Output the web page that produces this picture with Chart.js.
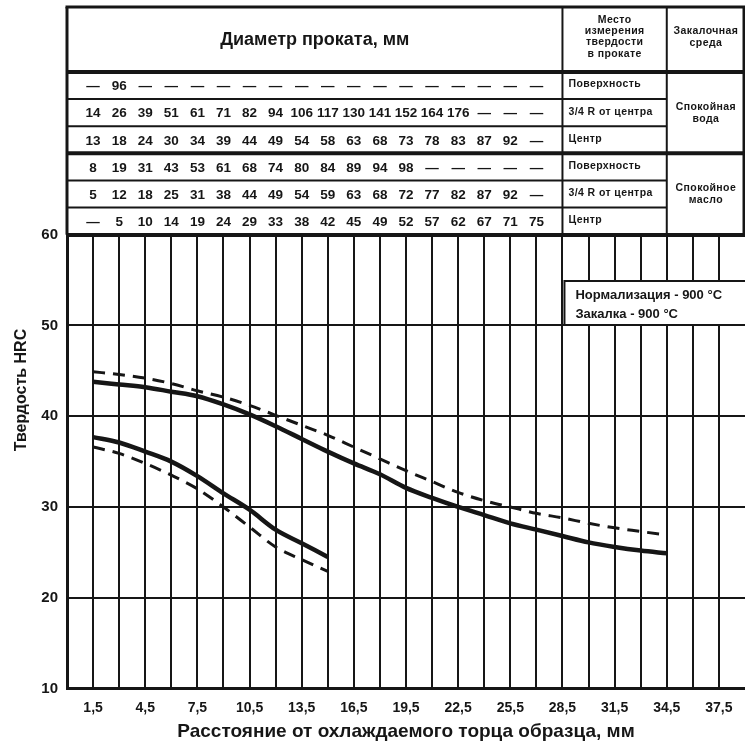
<!DOCTYPE html>
<html>
<head>
<meta charset="utf-8">
<script src="https://cdn.jsdelivr.net/npm/chart.js@4/dist/chart.umd.min.js"></script>
<style>
  html, body { margin: 0; padding: 0; background: #fff; }
  #wrap { width: 745px; height: 744px; }
</style>
</head>
<body>
<div id="wrap"><canvas id="hardnessChart" width="745" height="744"></canvas></div>
<script>
// Distance from quenched end, mm (curve points)
const upperX = [1.5, 3, 4.5, 6, 7.5, 9, 10.5, 12, 13.5, 15, 16.5, 18, 19.5, 21, 22.5, 24, 25.5, 27, 28.5, 30, 31.5, 33, 34.5];
const upperSolid = [43.8, 43.5, 43.2, 42.7, 42.2, 41.3, 40.2, 38.9, 37.5, 36.1, 34.8, 33.6, 32.1, 31.0, 30.0, 29.1, 28.2, 27.5, 26.8, 26.1, 25.6, 25.2, 24.9];
const upperDashed = [44.9, 44.6, 44.2, 43.6, 42.8, 42.1, 41.2, 40.1, 39.0, 37.9, 36.6, 35.3, 34.0, 32.8, 31.6, 30.7, 30.0, 29.3, 28.8, 28.2, 27.7, 27.3, 26.9];

const lowerX = [1.5, 3, 4.5, 6, 7.5, 9, 10.5, 12, 13.5, 15];
const lowerSolid = [37.7, 37.1, 36.1, 35.0, 33.4, 31.5, 29.7, 27.5, 26.0, 24.5];
const lowerDashed = [36.6, 35.9, 34.8, 33.5, 32.0, 30.0, 27.8, 25.6, 24.2, 22.9];

// Table above the chart: bar diameter, mm (one value per grid column 1,5 ... 27)
const tableColumns = [1.5, 3, 4.5, 6, 7.5, 9, 10.5, 12, 13.5, 15, 16.5, 18, 19.5, 21, 22.5, 24, 25.5, 27];
const waterSurface = ['—', '96', '—', '—', '—', '—', '—', '—', '—', '—', '—', '—', '—', '—', '—', '—', '—', '—'];
const waterQuarter = ['14', '26', '39', '51', '61', '71', '82', '94', '106', '117', '130', '141', '152', '164', '176', '—', '—', '—'];
const waterCenter = ['13', '18', '24', '30', '34', '39', '44', '49', '54', '58', '63', '68', '73', '78', '83', '87', '92', '—'];
const oilSurface = ['8', '19', '31', '43', '53', '61', '68', '74', '80', '84', '89', '94', '98', '—', '—', '—', '—', '—'];
const oilQuarter = ['5', '12', '18', '25', '31', '38', '44', '49', '54', '59', '63', '68', '72', '77', '82', '87', '92', '—'];
const oilCenter = ['—', '5', '10', '14', '19', '24', '29', '33', '38', '42', '45', '49', '52', '57', '62', '67', '71', '75'];
const tableRows = [waterSurface, waterQuarter, waterCenter, oilSurface, oilQuarter, oilCenter];
const placeLabels = ['Поверхность', '3/4 R от центра', 'Центр', 'Поверхность', '3/4 R от центра', 'Центр'];
const mediumLabels = [['Спокойная', 'вода'], ['Спокойное', 'масло']];
const placeHeader = ['Место', 'измерения', 'твердости', 'в прокате'];
const mediumHeader = ['Закалочная', 'среда'];
const diameterTitle = 'Диаметр проката, мм';
const noteLines = ['Нормализация - 900 °C', 'Закалка - 900 °C'];

const INK = '#161616';
const FONT = "'Liberation Sans', Arial, sans-serif";

function pts(xs, ys) {
    return xs.map((x, i) => ({ x: x, y: ys[i] }));
}

// draws the header table, the note box and the y title
const tablePlugin = {
    id: 'tablePlugin',
    afterDraw(chart) {
        const { ctx, chartArea, scales } = chart;
        const x = scales.x;
        const L = chartArea.left;
        const R = chart.width;
        const top = 7, headBottom = 72, rowH = (chartArea.top - headBottom) / 6;
        const colPlace = x.getPixelForValue(28.5);
        const colMedium = x.getPixelForValue(34.5);

        ctx.save();
        ctx.strokeStyle = INK;
        ctx.fillStyle = INK;

        function hline(y, x1, x2, w) {
            ctx.lineWidth = w;
            ctx.beginPath(); ctx.moveTo(x1, y); ctx.lineTo(x2, y); ctx.stroke();
        }
        function vline(xp, y1, y2, w) {
            ctx.lineWidth = w;
            ctx.beginPath(); ctx.moveTo(xp, y1); ctx.lineTo(xp, y2); ctx.stroke();
        }

        // frame
        hline(top, L - 1.5, R, 3);
        vline(L, top, chartArea.top, 3);
        vline(R - 1, top, chartArea.top, 3);
        hline(headBottom, L, R, 4);
        vline(colPlace, top, chartArea.top, 2);
        vline(colMedium, top, chartArea.top, 2);
        for (let i = 1; i < 6; i++) {
            const y = headBottom + rowH * i;
            if (i === 3) hline(y, L, R, 4);
            else hline(y, L, colMedium, 2);
        }

        // header texts
        ctx.textBaseline = 'middle';
        ctx.textAlign = 'center';
        ctx.font = 'bold 18px ' + FONT;
        ctx.fillText(diameterTitle, (L + colPlace) / 2, 40);
        ctx.font = 'bold 10.5px ' + FONT;
        ctx.letterSpacing = '0.4px';
        placeHeader.forEach((t, i) => ctx.fillText(t, (colPlace + colMedium) / 2, 20 + i * 11.3));
        mediumHeader.forEach((t, i) => ctx.fillText(t, (colMedium + R) / 2, 31 + i * 12));
        ctx.letterSpacing = '0px';

        // numbers on the grid columns
        ctx.font = 'bold 13.5px ' + FONT;
        tableRows.forEach((row, r) => {
            const y = headBottom + rowH * (r + 0.5) + 1;
            row.forEach((v, c) => ctx.fillText(v, x.getPixelForValue(tableColumns[c]), y));
        });

        // measurement place
        ctx.textAlign = 'left';
        ctx.font = 'bold 10.5px ' + FONT;
        ctx.letterSpacing = '0.4px';
        placeLabels.forEach((t, r) => ctx.fillText(t, colPlace + 6, headBottom + rowH * (r + 0.5) - 1));

        // quench medium
        ctx.textAlign = 'center';
        mediumLabels.forEach((pair, k) => {
            const cy = headBottom + rowH * (3 * k + 1.5);
            ctx.fillText(pair[0], (colMedium + R) / 2, cy - 6);
            ctx.fillText(pair[1], (colMedium + R) / 2, cy + 6);
        });
        ctx.letterSpacing = '0px';

        // note box
        const bx = colPlace + 2, by = 281, bh = 44;
        ctx.fillStyle = '#fff';
        ctx.fillRect(bx, by, R - bx + 2, bh);
        ctx.lineWidth = 2;
        ctx.strokeRect(bx, by, R - bx + 2, bh);
        ctx.fillStyle = INK;
        ctx.textAlign = 'left';
        ctx.font = 'bold 13px ' + FONT;
        ctx.fillText(noteLines[0], bx + 11, by + 14);
        ctx.fillText(noteLines[1], bx + 11, by + 33);

        // y axis title
        ctx.save();
        ctx.translate(22, 390);
        ctx.rotate(-Math.PI / 2);
        ctx.textAlign = 'center';
        ctx.font = 'bold 16px ' + FONT;
        ctx.fillText('Твердость HRC', 0, 0);
        ctx.restore();

        ctx.restore();
    }
};

const lineBase = { borderColor: INK, pointRadius: 0, fill: false, cubicInterpolationMode: 'monotone' };

new Chart(document.getElementById('hardnessChart'), {
    type: 'line',
    data: {
        datasets: [
            Object.assign({ data: pts(upperX, upperSolid), borderWidth: 4.5 }, lineBase),
            Object.assign({ data: pts(upperX, upperDashed), borderWidth: 3, borderDash: [12, 8] }, lineBase),
            Object.assign({ data: pts(lowerX, lowerSolid), borderWidth: 4.5 }, lineBase),
            Object.assign({ data: pts(lowerX, lowerDashed), borderWidth: 3, borderDash: [12, 8] }, lineBase)
        ]
    },
    options: {
        responsive: false,
        animation: false,
        layout: { padding: { top: 234.7, left: 0, right: 0, bottom: 0 } },
        plugins: {
            legend: { display: false },
            tooltip: { enabled: false }
        },
        scales: {
            x: {
                type: 'linear',
                min: 0,
                max: 39,
                afterFit: (s) => { s.height = 55.5; },
                // invisible tick marks give the label gap without the extra right padding
                grid: {
                    color: INK,
                    lineWidth: (c) => (c.tick && c.tick.value > 38 ? 0 : 2),
                    drawTicks: true,
                    tickLength: 11,
                    tickColor: 'rgba(0,0,0,0)'
                },
                border: { color: INK, width: 3 },
                ticks: {
                    stepSize: 1.5,
                    autoSkip: false,
                    maxRotation: 0,
                    padding: 0,
                    color: INK,
                    font: { family: FONT, size: 14, weight: 'bold' },
                    callback: (v) => {
                        const k = (v - 1.5) / 3;
                        if (Math.abs(k - Math.round(k)) > 1e-6 || k < 0) return '';
                        return (Math.round(v * 10) / 10).toFixed(1).replace('.', ',');
                    }
                },
                title: {
                    display: true,
                    text: 'Расстояние от охлаждаемого торца образца, мм',
                    color: INK,
                    font: { family: FONT, size: 19, weight: 'bold' },
                    padding: { top: 0, bottom: 1 }
                }
            },
            y: {
                min: 10,
                max: 60,
                afterFit: (s) => { s.width = 67; },
                grid: {
                    color: INK,
                    drawTicks: false,
                    lineWidth: (c) => (c.tick && c.tick.value === 60 ? 4 : 2)
                },
                border: { color: INK, width: 3 },
                ticks: {
                    stepSize: 10,
                    padding: 9,
                    color: INK,
                    font: { family: FONT, size: 15, weight: 'bold' }
                }
            }
        }
    },
    plugins: [tablePlugin]
});
</script>
</body>
</html>
